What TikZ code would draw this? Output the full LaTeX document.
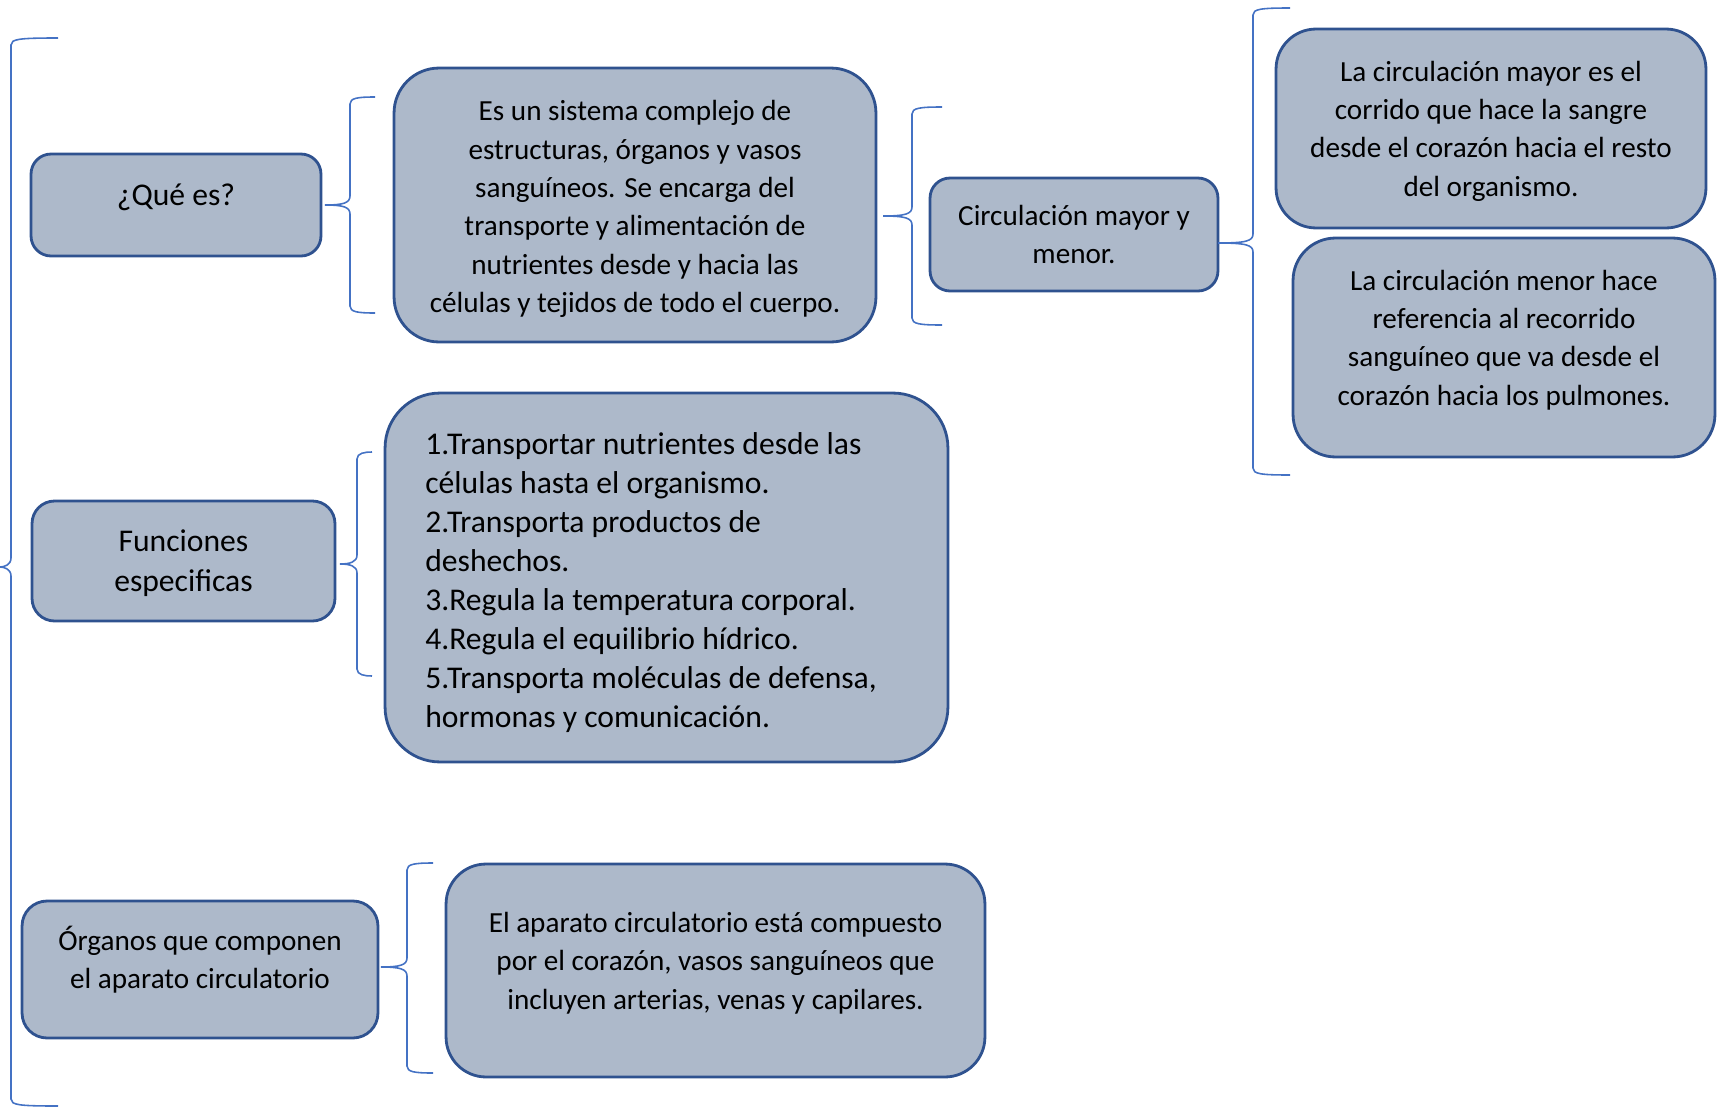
\documentclass[tikz,border=0pt]{standalone}
\usepackage{fontspec}
\setmainfont{Carlito}
\usepackage{tikz}
\usetikzlibrary{positioning}
\definecolor{boxfill}{HTML}{ADB9CA}
\definecolor{boxline}{HTML}{2F528F}
\definecolor{bracecol}{HTML}{4472C4}

% left curly bracket: tip x, tip y, spine x, top y, bottom y, arm x
\newcommand{\curlyjoin}[6]{%
  \draw[brc] (#6,#4) .. controls (#3+8,#4) and (#3,#4+1) .. (#3,#4+7)
    -- (#3,#2-9) .. controls (#3,#2-2) and (#3-7,#2) .. (#1,#2)
    .. controls (#3-7,#2) and (#3,#2+2) .. (#3,#2+9)
    -- (#3,#5-7) .. controls (#3,#5-1) and (#3+8,#5) .. (#6,#5);}

\begin{document}
\begin{tikzpicture}[
    x=0.02cm,
    y=-0.02cm,
    font=\fontsize{16.6}{21.8}\selectfont,
    box/.style={
        draw=boxline,
        fill=boxfill,
        line width=1.6pt,
        rounded corners=0.4cm,
        align=center,
        inner sep=0pt
    },
    lab/.style={
        align=center,
        inner sep=0pt
    },
    bigtext/.style={font=\fontsize{18}{23}\selectfont},
    brc/.style={draw=bracecol, line width=0.9pt}
]
\useasboundingbox (0,0) rectangle (1722,1109);

% first column
\node[box, bigtext, minimum width=5.8cm, minimum height=2.04cm] (que) at (176,205) {};
\node[lab, bigtext] (quetext) at (176,197) {¿Qué es?};

\node[box, bigtext, minimum width=6.06cm, minimum height=2.4cm, rounded corners=0.45cm] (func) at (183.5,561) {};
\node[lab, bigtext] (functitle) at (183.5,563)
{Funciones\\especificas};

\node[box, minimum width=7.12cm, minimum height=2.74cm, rounded corners=0.5cm] (org) at (200,969.5) {};
\node[lab] (orgtext) at (200,960)
{Órganos que componen\\el aparato circulatorio};

% second column
\node[box, minimum width=9.64cm, minimum height=5.48cm, rounded corners=0.9cm] (def) at (635,205) {};
\node[lab] (deftext) at (635,209)
{Es un sistema complejo de\\
estructuras, órganos y vasos\\
sanguíneos. Se encarga del\\
transporte y alimentación de\\
nutrientes desde y hacia las\\
células y tejidos de todo el cuerpo.};

\node[box, minimum width=11.26cm, minimum height=7.38cm, rounded corners=1.1cm] (funclist) at (666.5,577.5) {};
\node[lab, align=left, anchor=west, font=\fontsize{18}{22.2}\selectfont] (functext) at (425,583)
{1.Transportar nutrientes desde las\\
células hasta el organismo.\\
2.Transporta productos de\\
deshechos.\\
3.Regula la temperatura corporal.\\
4.Regula el equilibrio hídrico.\\
5.Transporta moléculas de defensa,\\
hormonas y comunicación.};

\node[box, minimum width=10.78cm, minimum height=4.26cm, rounded corners=0.8cm] (apar) at (715.5,970.5) {};
\node[lab] (apartext) at (715.5,963)
{El aparato circulatorio está compuesto\\
por el corazón, vasos sanguíneos que\\
incluyen arterias, venas y capilares.};

% third column
\node[box, minimum width=5.76cm, minimum height=2.26cm] (circ) at (1074,234.5)
{Circulación mayor y\\menor.};

% fourth column
\node[box, minimum width=8.6cm, minimum height=3.98cm, rounded corners=0.8cm] (mayor) at (1491,128.5) {};
\node[lab] (mayortext) at (1491,131)
{La circulación mayor es el\\
corrido que hace la sangre\\
desde el corazón hacia el resto\\
del organismo.};

\node[box, minimum width=8.44cm, minimum height=4.38cm, rounded corners=0.85cm] (menor) at (1504,347.5) {};
\node[lab] (menortext) at (1504,340)
{La circulación menor hace\\
referencia al recorrido\\
sanguíneo que va desde el\\
corazón hacia los pulmones.};

% brackets
\curlyjoin{0}{567}{11}{38}{1106}{58}
\curlyjoin{325}{205}{350}{97}{313}{375}
\curlyjoin{340}{564}{357}{452}{676}{372}
\curlyjoin{381}{967}{407}{863}{1073}{433}
\curlyjoin{883}{216}{912}{107}{325}{942}
\curlyjoin{1218}{243}{1253}{8}{475}{1290}

\end{tikzpicture}
\end{document}
